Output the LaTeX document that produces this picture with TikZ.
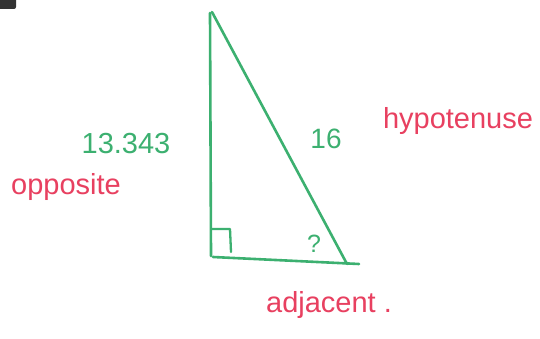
\documentclass[tikz,border=0pt]{standalone}
\usepackage{fontspec}
\setmainfont{Liberation Sans}
\definecolor{chalkgreen}{RGB}{60,176,112}
\definecolor{inkred}{RGB}{232,64,96}
\begin{document}
\begin{tikzpicture}[x=1pt,y=-1pt,
  side/.style={draw=chalkgreen,line width=2.6pt,line cap=round,line join=round},
  greenlabel/.style={text=chalkgreen,inner sep=0pt},
  redlabel/.style={text=inkred,font=\fontsize{29}{32}\selectfont,inner sep=0pt}]
\useasboundingbox (0,0) rectangle (540,339);
\fill[white] (0,0) rectangle (540,339);
% cut-off dark blob top-left
\fill[black!80,rounded corners=2pt] (-3,-3) rectangle (16,9);
% triangle corners
\coordinate (top) at (210,13);
\coordinate (corner) at (211,256);
\coordinate (foot) at (347,264);
\coordinate (tail) at (359,264);
\coordinate (hyptop) at (212,12);
\draw[side] (top) -- (corner);
\draw[side] (213,257) -- (tail);
\draw[side] (hyptop) -- (foot);
% right angle mark
\coordinate (ra1) at (212,229);
\coordinate (ra2) at (230,229);
\coordinate (ra3) at (231,252);
\draw[side,line width=2.3pt] (ra1) -- (ra2) -- (ra3);
% labels
\node[greenlabel,font=\fontsize{25}{28}\selectfont] (q) at (314,244) {?};
\node[greenlabel,font=\fontsize{29}{32}\selectfont] (opp) at (126,144) {13.343};
\node[greenlabel,font=\fontsize{28}{30}\selectfont] (hyp) at (326,139) {16};
\node[redlabel] (hyptxt) at (458,121) {hypotenuse};
\node[redlabel] (opptxt) at (66,187) {opposite};
\node[redlabel] (adjtxt) at (329,305) {adjacent .};
\end{tikzpicture}
\end{document}
